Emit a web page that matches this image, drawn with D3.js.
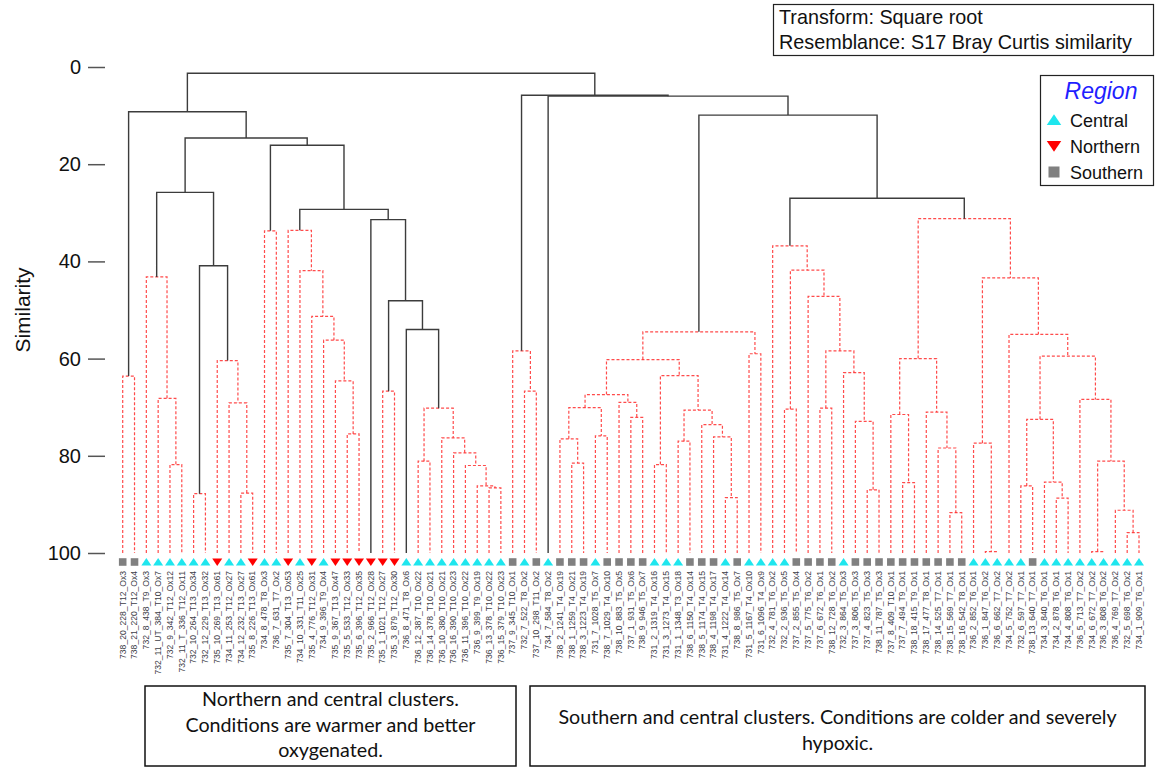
<!DOCTYPE html>
<html>
<head>
<meta charset="utf-8">
<script src="https://cdn.jsdelivr.net/npm/d3@7/dist/d3.min.js"></script>
<style>
  html, body { margin: 0; padding: 0; background: #fff; }
  svg { display: block; font-family: "Liberation Sans", Arial, sans-serif; }
</style>
</head>
<body>
<svg id="chart" width="1166" height="775"></svg>
<script>
// Sample labels, in dendrogram leaf order
const leafLabels = [
  "738_20_228_T12_Ox3", "738_21_220_T12_Ox4", "732_8_438_T9_Ox3", "732_11_UT_384_T10_Ox7",
  "732_9_342_T12_Ox12", "732_11_T_336_T12_Ox11", "732_10_264_T13_Ox34", "732_12_229_T13_Ox32",
  "735_10_269_T13_Ox61", "734_11_253_T12_Ox27", "734_12_232_T13_Ox27", "735_8_226_T13_Ox61",
  "734_8_478_T8_Ox3", "736_7_631_T7_Ox2", "735_7_304_T13_Ox53", "734_10_331_T11_Ox25",
  "735_4_776_T12_Ox31", "734_9_396_T9_Ox4", "735_9_367_T13_Ox47", "735_5_533_T12_Ox33",
  "735_6_396_T12_Ox35", "735_2_966_T12_Ox28", "735_1_1021_T12_Ox27", "735_3_879_T12_Ox30",
  "736_8_471_T8_Ox6", "736_12_387_T10_Ox22", "736_14_378_T10_Ox21", "736_10_380_T10_Ox21",
  "736_16_390_T10_Ox23", "736_11_396_T10_Ox22", "736_9_399_T9_Ox19", "736_13_378_T10_Ox22",
  "736_15_379_T10_Ox23", "737_9_345_T10_Ox1", "732_7_522_T8_Ox2", "737_10_298_T11_Ox2",
  "734_7_584_T8_Ox2", "738_2_1241_T4_Ox19", "738_1_1259_T4_Ox21", "738_3_1223_T4_Ox19",
  "731_7_1028_T5_Ox7", "738_7_1029_T4_Ox10", "738_10_883_T5_Ox5", "737_1_931_T5_Ox6",
  "738_9_946_T5_Ox7", "731_2_1319_T4_Ox16", "731_3_1273_T4_Ox15", "731_1_1348_T3_Ox18",
  "738_6_1150_T4_Ox14", "738_5_1174_T4_Ox15", "738_4_1198_T4_Ox17", "731_4_1222_T4_Ox14",
  "738_8_986_T5_Ox7", "731_5_1167_T4_Ox10", "731_6_1096_T4_Ox9", "732_4_781_T6_Ox2",
  "732_2_936_T5_Ox5", "737_2_855_T5_Ox4", "737_5_775_T6_Ox2", "737_6_672_T6_Ox1",
  "738_12_728_T6_Ox2", "732_3_864_T5_Ox3", "737_3_806_T5_Ox3", "737_4_823_T5_Ox3",
  "738_11_787_T5_Ox3", "737_8_409_T10_Ox1", "737_7_494_T9_Ox1", "738_18_415_T9_Ox1",
  "738_17_477_T8_Ox1", "738_14_525_T7_Ox1", "738_15_569_T7_Ox1", "738_16_542_T8_Ox1",
  "736_2_852_T6_Ox1", "736_1_847_T6_Ox2", "736_6_662_T7_Ox2", "734_5_752_T7_Ox2",
  "732_6_597_T7_Ox1", "738_13_640_T7_Ox1", "734_3_840_T6_Ox1", "734_2_878_T6_Ox1",
  "734_4_808_T6_Ox1", "736_5_713_T7_Ox2", "734_6_672_T7_Ox2", "736_3_808_T6_Ox2",
  "736_4_769_T7_Ox2", "732_5_698_T6_Ox2", "734_1_909_T6_Ox1"
];

// Region of each sample (C = Central, N = Northern, S = Southern)
const leafRegions = [
  "S","S","C","C","C","C","C","C","N","C","C","N","C","C","N","C","N","C","N","N",
  "N","N","N","N","C","C","C","C","C","C","C","C","C","S","C","S","C","S","S","S",
  "C","S","S","S","S","C","C","C","S","S","S","C","S","C","C","C","C","S","S","S",
  "S","C","S","S","S","S","S","S","S","S","S","S","C","C","C","C","C","S","C","C",
  "C","C","C","C","C","C","C"
];

// Agglomeration steps: negative = leaf number (1-based), positive = earlier step (1-based)
const mergePairs = [
  [-1,-2], [-5,-6], [-4,2], [-3,3], [-7,-8], [-11,-12], [-10,6], [-9,7], [5,8], [4,9],
  [-13,-14], [-20,-21], [-19,12], [-18,13], [-17,14], [-16,15], [-15,16], [-23,-24], [-26,-27], [-32,-33],
  [-31,20], [-30,21], [-29,22], [-28,23], [19,24], [-25,25], [18,26], [-22,27], [17,28], [11,29],
  [10,30], [1,31], [-35,-36], [-34,33], [-39,-40], [-38,35], [-41,-42], [36,37], [-44,-45], [-43,39],
  [38,40], [-46,-47], [-48,-49], [-52,-53], [-51,44], [-50,45], [43,46], [42,47], [41,48], [-54,-55],
  [49,50], [-57,-58], [-64,-65], [-63,53], [-62,54], [-60,-61], [56,55], [-59,57], [52,58], [-56,59],
  [-67,-68], [-66,61], [-71,-72], [-70,63], [-69,64], [62,65], [-74,-75], [-73,67], [-77,-78], [-80,-81],
  [-79,70], [69,71], [-83,-84], [-86,-87], [-85,74], [73,75], [-82,76], [72,77], [-76,78], [68,79],
  [66,80], [60,81], [51,82], [-37,83], [34,84], [32,85]
];

// Similarity (%) at which each step joins
const mergeHeights = [
  63.6, 81.8, 68.2, 43.2, 87.8, 87.7, 69.1, 60.4, 40.9, 25.8,
  33.7, 75.5, 64.6, 56.2, 51.3, 41.9, 33.6, 66.7, 81.1, 86.6,
  86.2, 82.0, 79.4, 76.3, 70.2, 54.0, 48.1, 31.4, 29.3, 16.1,
  14.6, 9.2, 66.7, 58.4, 81.5, 76.5, 75.9, 70.1, 72.1, 69.0,
  67.4, 81.8, 77.0, 88.6, 76.1, 73.6, 70.6, 63.5, 60.2, 59.0,
  54.5, 70.4, 87.0, 72.9, 62.9, 70.2, 58.4, 47.2, 41.8, 36.8,
  85.5, 71.5, 91.7, 78.4, 71.0, 60.0, 99.7, 77.4, 86.2, 88.7,
  85.4, 72.5, 99.7, 95.8, 91.2, 81.1, 68.4, 59.5, 55.0, 43.4,
  31.2, 27.0, 9.9, 6.0, 5.8, 1.3
];

// SIMPROF result for each step: 1 = significant structure (solid), 0 = not (dashed)
const mergeSignificant = [
  0,0,0,0,0,0,0,0,1,1,
  0,0,0,0,0,0,0,0,0,0,
  0,0,0,0,0,1,1,1,1,1,
  1,1,0,0,0,0,0,0,0,0,
  0,0,0,0,0,0,0,0,0,0,
  0,0,0,0,0,0,0,0,0,0,
  0,0,0,0,0,0,0,0,0,0,
  0,0,0,0,0,0,0,0,0,0,
  0,1,1,1,1,1
];

const yTicks = [0, 20, 40, 60, 80, 100];

const regionNames = { C: "Central", N: "Northern", S: "Southern" };
const regionOrder = ["C", "N", "S"];

const noteLeft = ["Northern and central clusters.", "Conditions are warmer and better", "oxygenated."];
const noteRight = ["Southern and central clusters. Conditions are colder and severely", "hypoxic."];

// ---------------------------------------------------------------------------
const svg = d3.select("#chart");

const x = d3.scalePoint().domain(d3.range(leafLabels.length)).range([122.7, 1139]);
const y = d3.scaleLinear().domain([0, 100]).range([67, 553]);

const solidColor = "#3c3c3c";
const dashColor = "#ff2b2b";
const regionColor = { C: "#1ee6ee", N: "#ff0000", S: "#808080" };

// Build node positions from the agglomeration steps
const nodes = [];
function ref(r) {
  return r < 0 ? { x: x(-r - 1), h: 100 } : nodes[r - 1];
}
mergePairs.forEach((p, i) => {
  const a = ref(p[0]), b = ref(p[1]);
  nodes.push({ a, b, x: (a.x + b.x) / 2, h: mergeHeights[i], sig: mergeSignificant[i] === 1 });
});

// Dendrogram links: each step draws its bar plus the two drops to its children
const links = svg.append("g");
const drawOrder = nodes.slice().sort((m, n) => (m.sig === n.sig ? 0 : m.sig ? 1 : -1));
links.selectAll("path")
  .data(drawOrder)
  .join("path")
  .attr("d", d => `M${d.a.x},${y(d.a.h)}V${y(d.h)}H${d.b.x}V${y(d.b.h)}`)
  .attr("fill", "none")
  .attr("stroke", d => d.sig ? solidColor : dashColor)
  .attr("stroke-width", d => d.sig ? 1.4 : 1.2)
  .attr("stroke-dasharray", d => d.sig ? null : "3,2")
  .attr("stroke-opacity", d => d.sig ? 1 : 0.85);

// Region symbols
const markerY = 562;
function markerPath(r) {
  if (r === "C") return "M0,-4L5,3.5L-5,3.5Z";
  if (r === "N") return "M0,4L5,-3.5L-5,-3.5Z";
  return "M-3.8,-3.8H3.8V3.8H-3.8Z";
}
svg.append("g").selectAll("path")
  .data(leafRegions)
  .join("path")
  .attr("transform", (d, i) => `translate(${x(i)},${markerY})`)
  .attr("d", d => markerPath(d))
  .attr("fill", d => regionColor[d]);

// Leaf labels
svg.append("g").selectAll("text")
  .data(leafLabels)
  .join("text")
  .attr("transform", (d, i) => `translate(${x(i) + 2.8},571) rotate(-90)`)
  .attr("text-anchor", "end")
  .attr("font-size", 8.6)
  .attr("fill", "#404048")
  .text(d => d);

// Y axis
const yAxis = d3.axisLeft(y).tickValues(yTicks).tickSize(17).tickPadding(7);
const gy = svg.append("g").attr("transform", "translate(105,0)").call(yAxis);
gy.select(".domain").remove();
gy.selectAll(".tick line").attr("stroke", "#555").attr("stroke-width", 1.5);
gy.selectAll(".tick text")
  .attr("font-size", 20)
  .attr("font-family", "Liberation Sans, Arial, sans-serif")
  .attr("fill", "#111");

svg.append("text")
  .attr("transform", "translate(30,310) rotate(-90)")
  .attr("text-anchor", "middle")
  .attr("font-size", 21)
  .attr("fill", "#111")
  .text("Similarity");

// Method box
const info = svg.append("g");
info.append("rect").attr("x", 773.5).attr("y", 4.5).attr("width", 380).attr("height", 51)
  .attr("fill", "#fff").attr("stroke", "#222").attr("stroke-width", 1.2);
info.append("text").attr("x", 779).attr("y", 24).attr("font-size", 19.8).attr("fill", "#111")
  .text("Transform: Square root");
info.append("text").attr("x", 779).attr("y", 49).attr("font-size", 19.8).attr("fill", "#111")
  .text("Resemblance: S17 Bray Curtis similarity");

// Legend
const lg = svg.append("g");
lg.append("rect").attr("x", 1040.5).attr("y", 75.5).attr("width", 113).attr("height", 110)
  .attr("fill", "#fff").attr("stroke", "#222").attr("stroke-width", 1.2);
lg.append("text").attr("x", 1101).attr("y", 99).attr("text-anchor", "middle")
  .attr("font-size", 23).attr("font-style", "italic").attr("fill", "#1f1fff").text("Region");
const items = lg.selectAll("g.item").data(regionOrder).join("g")
  .attr("class", "item")
  .attr("transform", (d, i) => `translate(0,${120 + i * 26})`);
items.append("path")
  .attr("transform", "translate(1054,0) scale(1.45)")
  .attr("d", d => markerPath(d))
  .attr("fill", d => regionColor[d]);
items.append("text").attr("x", 1070).attr("y", 7).attr("font-size", 18).attr("fill", "#111")
  .text(d => regionNames[d]);

// Annotation boxes
function noteBox(x0, w, lines, yStart) {
  const g = svg.append("g");
  g.append("rect").attr("x", x0).attr("y", 686).attr("width", w).attr("height", 80)
    .attr("fill", "#fff").attr("stroke", "#111").attr("stroke-width", 1.5);
  g.selectAll("text").data(lines).join("text")
    .attr("x", x0 + w / 2)
    .attr("y", (d, i) => yStart + i * 25.5)
    .attr("text-anchor", "middle")
    .attr("font-family", "Lato, 'Liberation Sans', sans-serif")
    .attr("font-size", 19.7)
    .attr("fill", "#111")
    .text(d => d);
}
noteBox(145, 371, noteLeft, 706);
noteBox(530, 615, noteRight, 724);
</script>
</body>
</html>
